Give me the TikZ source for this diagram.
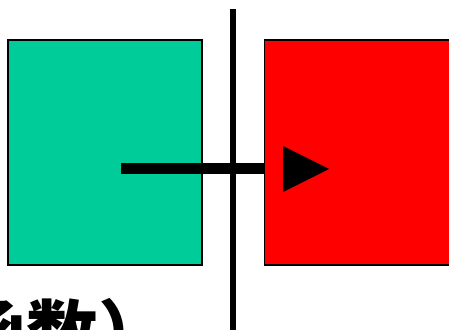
\documentclass[tikz,border=0pt]{standalone}
\usepackage{fontspec}
\newfontfamily\cjk{Noto Sans CJK SC}
\definecolor{boxgreen}{RGB}{0,204,153}
\definecolor{boxred}{RGB}{255,0,0}
\begin{document}
\begin{tikzpicture}[x=1pt,y=-1pt,
  panel/.style={draw=black,line width=1.5pt,minimum width=194pt,minimum height=225pt,inner sep=0pt,outer sep=0pt},
  bar/.style={line width=11pt,black},
  divider/.style={line width=6pt,black}]
\useasboundingbox (0,0) rectangle (449,329);
\node[panel,fill=boxgreen,anchor=north west] (g) at (8,40) {};
\coordinate (barstart) at (121,168.5);
\draw[bar] (barstart) -- (g.east |- barstart) coordinate (barmid);
\node[panel,fill=boxred,anchor=north west] (r) at (264.5,40) {};
\draw[bar] (barmid) -- (r.west |- barstart);
\coordinate (vtop) at (233,9);
\coordinate (vbot) at (233,340);
\draw[divider] (vtop) -- (vbot);
\coordinate (t1) at (283,146);
\coordinate (t2) at (283,192);
\coordinate (t3) at (329,169);
\fill[black] (t1) -- (t2) -- (t3) -- cycle;
\node[anchor=base west,inner sep=0pt,font=\cjk\bfseries\fontsize{72pt}{72pt}\selectfont] (lbl) at (-46,360) {函数）};
\end{tikzpicture}
\end{document}
